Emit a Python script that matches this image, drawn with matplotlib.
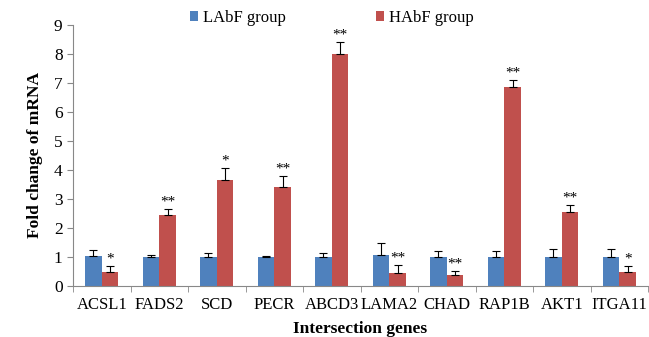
import matplotlib
matplotlib.use("Agg")
import matplotlib.pyplot as plt
import numpy as np

genes = ["ACSL1", "FADS2", "SCD", "PECR", "ABCD3", "LAMA2", "CHAD", "RAP1B", "AKT1", "ITGA11"]
labf = [1.05, 1.0, 1.0, 1.0, 1.0, 1.07, 1.0, 1.0, 1.0, 1.0]
labf_err = [0.2, 0.08, 0.15, 0.05, 0.15, 0.4, 0.2, 0.2, 0.28, 0.28]
habf = [0.5, 2.45, 3.65, 3.42, 8.0, 0.45, 0.38, 6.85, 2.55, 0.48]
habf_err = [0.2, 0.2, 0.42, 0.38, 0.42, 0.28, 0.15, 0.25, 0.23, 0.22]
sig = ["*", "**", "*", "**", "**", "**", "**", "**", "**", "*"]

plt.rcParams['font.family'] = ['Liberation Serif', 'DejaVu Serif']

fig = plt.figure(figsize=(6.49, 3.37), dpi=100)
ax = fig.add_axes([73/649, 1-286/337, 575/649, (286-25)/337])

x = np.arange(len(genes))
w = 0.29
blue = "#4F81BD"
red = "#C0504D"
ax.bar(x - w/2, labf, w, color=blue, label="LAbF group", zorder=2)
ax.bar(x + w/2, habf, w, color=red, label="HAbF group", zorder=2)
ax.errorbar(x - w/2, labf, yerr=[np.zeros(len(labf)), labf_err], fmt='none',
            ecolor='black', elinewidth=0.8, capsize=3, capthick=0.8, zorder=3)
ax.errorbar(x + w/2, habf, yerr=[np.zeros(len(habf)), habf_err], fmt='none',
            ecolor='black', elinewidth=0.8, capsize=3, capthick=0.8, zorder=3)
for xi, v, e, s in zip(x, habf, habf_err, sig):
    ax.text(xi + w/2, v + e + 0.02, s, ha='center', va='bottom', fontsize=11)

ax.set_xlim(-0.5, len(genes) - 0.5)
ax.set_ylim(0, 9)
ax.set_yticks(range(0, 10))
ax.set_xticks(x)
ax.set_xticklabels(genes, fontsize=12)
ax.set_xticks(np.arange(-0.5, len(genes), 1), minor=True)
ax.tick_params(axis='x', which='major', length=0, pad=8)
ax.tick_params(axis='x', which='minor', length=4, color='#888888')
ax.tick_params(axis='y', labelsize=12.5, length=4, color='#888888')
for sp in ['top', 'right']:
    ax.spines[sp].set_visible(False)
for sp in ['left', 'bottom']:
    ax.spines[sp].set_color('#888888')
    ax.spines[sp].set_linewidth(0.8)

ax.set_xlabel("Intersection genes", fontsize=12.5, fontweight='bold', labelpad=6)
ax.set_ylabel("Fold change of mRNA", fontsize=12.5, fontweight='bold', labelpad=8)

ax.legend(loc='upper center', bbox_to_anchor=(0.45, 1.115), ncol=2, frameon=False,
          fontsize=12, handlelength=0.5, handleheight=0.5, handletextpad=0.3,
          columnspacing=5.4)

fig.savefig("out.png", dpi=100)
